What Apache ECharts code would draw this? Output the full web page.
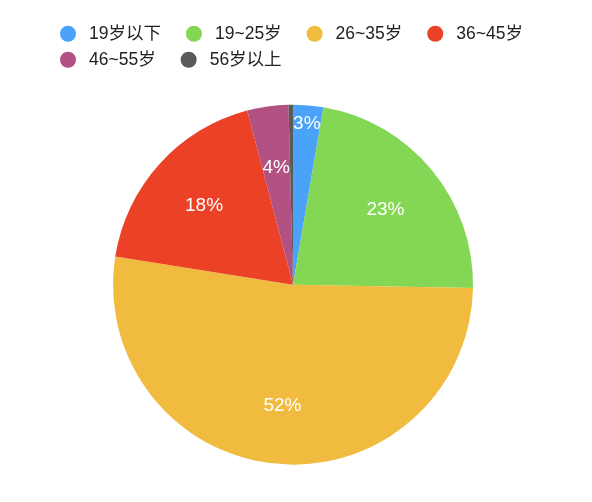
<!DOCTYPE html>
<html>
<head>
<meta charset="utf-8">
<script src="https://cdn.jsdelivr.net/npm/echarts@6/dist/echarts.min.js"></script>
<style>
html, body { margin: 0; padding: 0; background: #fff; }
#main { width: 592px; height: 502px; }
</style>
</head>
<body>
<div id="main"></div>
<script>
var ageGroups = ['19岁以下', '19~25岁', '26~35岁', '36~45岁', '46~55岁', '56岁以上'];
var shares = [2.7, 22.6, 52.2, 18.4, 3.7, 0.4];
var colors = ['#4ba3f9', '#84d655', '#f0bb3f', '#eb4126', '#b15283', '#5a5a5a'];

var font = "'Liberation Sans', 'Noto Sans CJK SC', sans-serif";
var chart = echarts.init(document.getElementById('main'));

var pieData = [];
for (var i = 0; i < ageGroups.length; i++) {
	pieData.push({ name: ageGroups[i], value: shares[i] });
}

function legendBox(names, top) {
	return {
		data: names,
		left: 55,
		top: top,
		icon: 'circle',
		itemWidth: 32,
		itemHeight: 16,
		itemGap: 25,
		textStyle: { fontSize: 17.5, color: '#222', fontFamily: font }
	};
}

var option = {
	color: colors,
	legend: [
		legendBox(ageGroups.slice(0, 4), 20),
		legendBox(ageGroups.slice(4), 46)
	],
	series: [{
		name: '年龄分布',
		type: 'pie',
		radius: 180,
		center: ['49.5%', '56.7%'],
		startAngle: 90,
		clockwise: true,
		avoidLabelOverlap: false,
		data: pieData,
		itemStyle: { borderWidth: 0 },
		label: {
			position: 'inside',
			color: '#fff',
			fontSize: 19,
			fontFamily: font,
			formatter: function (p) {
				return p.percent < 1 ? '' : Math.round(p.percent) + '%';
			}
		},
		labelLine: { show: false },
		labelLayout: function (p) {
			// push inside labels outward from the middle of the radius
			var cx = chart.getWidth() * 0.495, cy = chart.getHeight() * 0.567;
			var lx = p.labelRect.x + p.labelRect.width / 2;
			var ly = p.labelRect.y + p.labelRect.height / 2;
			var k = (p.dataIndex === 0 ? 163 : 120) / 93 - 1;
			return { dx: (lx - cx) * k, dy: (ly - cy) * k + 2 };
		},
		emphasis: { scale: false }
	}]
};
chart.setOption(option);
</script>
</body>
</html>
